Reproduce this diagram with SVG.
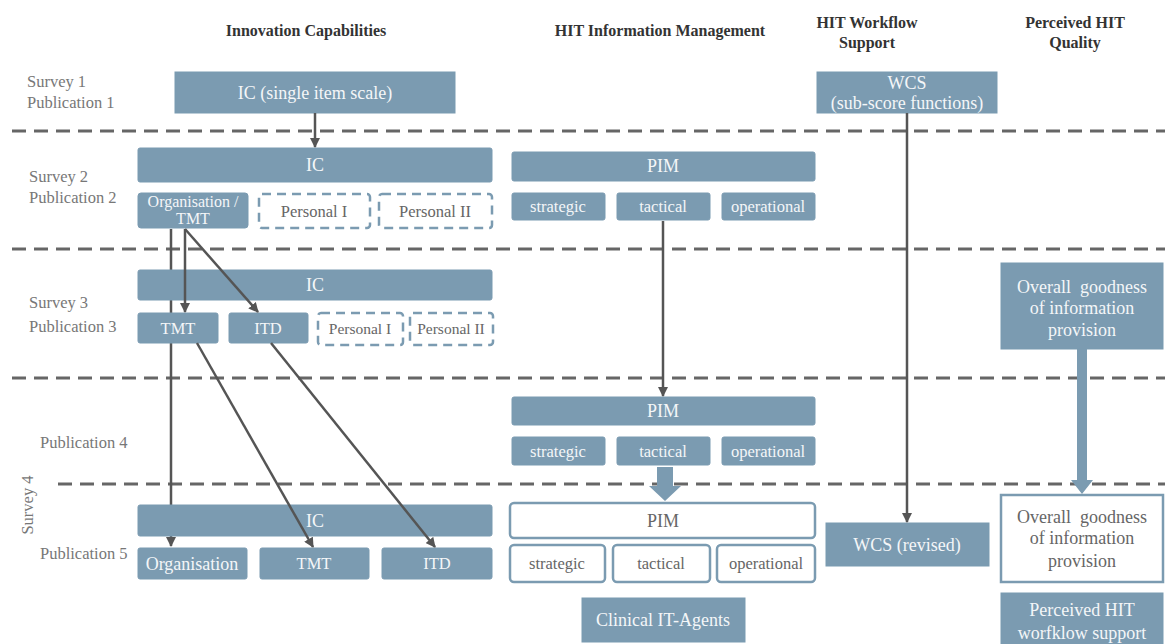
<svg xmlns="http://www.w3.org/2000/svg" width="1165" height="644" viewBox="0 0 1165 644">
  <defs>
    <marker id="arrow" viewBox="0 0 10 10" refX="9" refY="5" markerWidth="4" markerHeight="4" orient="auto" markerUnits="strokeWidth">
      <path d="M0,0 L10,5 L0,10 z" fill="#555"/>
    </marker>
    <style>
      text { font-family: "Liberation Serif", "Times New Roman", "DejaVu Serif", serif; }
      .head { font-weight: bold; font-size: 16px; fill: #333; text-anchor: middle; }
      .side { font-size: 16.5px; fill: #777; }
      .box { fill: #7b9bb1; stroke: #7b9bb1; stroke-width: 1; }
      .obox { fill: #fff; stroke: #7b9bb1; stroke-width: 2.5; }
      .dbox { fill: #fff; stroke: #7b9bb1; stroke-width: 2.5; stroke-dasharray: 9 6; }
      .t { font-size: 16.5px; fill: #f4f6f8; text-anchor: middle; }
      .tl { font-size: 18px; fill: #f4f6f8; text-anchor: middle; }
      .to { font-size: 16.5px; fill: #666; text-anchor: middle; }
      .ts { font-size: 15.5px; fill: #666; text-anchor: middle; }
      .tol { font-size: 18px; fill: #666; text-anchor: middle; }
      .sep { stroke: #666; stroke-width: 3; stroke-dasharray: 14 8; fill: none; }
      .conn { stroke: #555; stroke-width: 2.5; fill: none; }
      .fat { fill: #7b9bb1; }
    </style>
  </defs>

  <!-- column headings -->
  <g id="headings">
    <text class="head" x="306" y="36">Innovation Capabilities</text>
    <text class="head" x="660" y="36">HIT Information Management</text>
    <text class="head" x="867" y="28">HIT Workflow</text>
    <text class="head" x="867" y="48">Support</text>
    <text class="head" x="1075" y="28">Perceived HIT</text>
    <text class="head" x="1075" y="48">Quality</text>
  </g>

  <!-- row labels -->
  <g id="rows">
    <text class="side" x="27" y="87">Survey 1</text>
    <text class="side" x="27" y="108">Publication 1</text>
    <text class="side" x="29" y="182">Survey 2</text>
    <text class="side" x="29" y="203">Publication 2</text>
    <text class="side" x="29" y="308">Survey 3</text>
    <text class="side" x="29" y="332">Publication 3</text>
    <text class="side" x="40" y="448">Publication 4</text>
    <text class="side" x="40" y="559">Publication 5</text>
    <text class="side" x="0" y="0" text-anchor="middle" transform="translate(33,505) rotate(-90)">Survey 4</text>
  </g>

  <!-- period separators -->
  <g id="separators">
    <line class="sep" x1="12" y1="131" x2="1165" y2="131"/>
    <line class="sep" x1="12" y1="249" x2="1165" y2="249"/>
    <line class="sep" x1="12" y1="378" x2="1165" y2="378"/>
    <line class="sep" x1="58" y1="484" x2="1165" y2="484"/>
  </g>

  <!-- connector running behind the IC and TMT boxes -->
  <g id="connectors-under">
    <line class="conn" x1="171" y1="229" x2="171" y2="546" marker-end="url(#arrow)"/>
  </g>

  <!-- Survey 1 -->
  <g id="ic-single"><rect class="box" x="175" y="72" width="280" height="41"/><text class="tl" x="315" y="99">IC (single item scale)</text></g>
  <g id="wcs"><rect class="box" x="817" y="72" width="180" height="41"/><text class="tl" x="907" y="89">WCS</text><text class="tl" x="907" y="109">(sub-score functions)</text></g>

  <!-- Survey 2 -->
  <g id="ic-2"><rect class="box" x="138" y="148" width="354" height="34" rx="2"/><text class="tl" x="315" y="171">IC</text></g>
  <g id="org-tmt-2"><rect class="box" x="138" y="193" width="110" height="35" rx="3"/><text class="t" x="193" y="207" style="font-size:16px">Organisation /</text><text class="t" x="193" y="224" style="font-size:16px">TMT</text></g>
  <g id="personal1-2"><rect class="dbox" x="259" y="194" width="111" height="34" rx="3"/><text class="to" x="314" y="217">Personal I</text></g>
  <g id="personal2-2"><rect class="dbox" x="379" y="194" width="113" height="34" rx="3"/><text class="to" x="435" y="217">Personal II</text></g>
  <g id="pim-2"><rect class="box" x="512" y="152" width="303" height="29" rx="2"/><text class="tl" x="663" y="172">PIM</text></g>
  <g id="strategic-2"><rect class="box" x="512" y="193" width="93" height="27" rx="2"/><text class="t" x="558" y="212">strategic</text></g>
  <g id="tactical-2"><rect class="box" x="617" y="193" width="93" height="27" rx="2"/><text class="t" x="663" y="212">tactical</text></g>
  <g id="operational-2"><rect class="box" x="722" y="193" width="93" height="27" rx="2"/><text class="t" x="768" y="212">operational</text></g>

  <!-- Survey 3 -->
  <g id="ic-3"><rect class="box" x="138" y="270" width="354" height="30" rx="2"/><text class="tl" x="315" y="291">IC</text></g>
  <g id="tmt-3"><rect class="box" x="138" y="313" width="80" height="30" rx="2"/><text class="t" x="178" y="334">TMT</text></g>
  <g id="itd-3"><rect class="box" x="229" y="313" width="79" height="30" rx="2"/><text class="t" x="268" y="334">ITD</text></g>
  <g id="personal1-3"><rect class="dbox" x="318" y="313" width="85" height="32" rx="3"/><text class="ts" x="360" y="334">Personal I</text></g>
  <g id="personal2-3"><rect class="dbox" x="410" y="313" width="83" height="32" rx="3"/><text class="ts" x="451" y="334">Personal II</text></g>
  <g id="goodness-3"><rect class="box" x="1001" y="263" width="162" height="86"/><text class="tl" x="1082" y="293" xml:space="preserve">Overall  goodness</text><text class="tl" x="1082" y="314">of information</text><text class="tl" x="1082" y="336">provision</text></g>

  <!-- Survey 4 / Publication 4 -->
  <g id="pim-4"><rect class="box" x="512" y="397" width="303" height="28" rx="2"/><text class="tl" x="663" y="417">PIM</text></g>
  <g id="strategic-4"><rect class="box" x="512" y="437" width="93" height="28" rx="2"/><text class="t" x="558" y="457">strategic</text></g>
  <g id="tactical-4"><rect class="box" x="617" y="437" width="93" height="28" rx="2"/><text class="t" x="663" y="457">tactical</text></g>
  <g id="operational-4"><rect class="box" x="722" y="437" width="93" height="28" rx="2"/><text class="t" x="768" y="457">operational</text></g>

  <!-- Survey 4 / Publication 5 -->
  <g id="ic-5"><rect class="box" x="138" y="505" width="354" height="31" rx="2"/><text class="tl" x="315" y="527">IC</text></g>
  <g id="org-5"><rect class="box" x="138" y="548" width="109" height="31" rx="2"/><text class="tl" x="192" y="570">Organisation</text></g>
  <g id="tmt-5"><rect class="box" x="260" y="548" width="109" height="31" rx="2"/><text class="t" x="314" y="569">TMT</text></g>
  <g id="itd-5"><rect class="box" x="382" y="548" width="110" height="31" rx="2"/><text class="t" x="437" y="569">ITD</text></g>
  <g id="pim-5"><rect class="obox" x="510" y="503" width="305" height="35" rx="4"/><text class="tol" x="663" y="527">PIM</text></g>
  <g id="strategic-5"><rect class="obox" x="510" y="545" width="95" height="37" rx="4"/><text class="to" x="557" y="569">strategic</text></g>
  <g id="tactical-5"><rect class="obox" x="613" y="545" width="97" height="37" rx="4"/><text class="to" x="661" y="569">tactical</text></g>
  <g id="operational-5"><rect class="obox" x="717" y="545" width="98" height="37" rx="4"/><text class="to" x="766" y="569">operational</text></g>
  <g id="wcs-revised"><rect class="box" x="826" y="523" width="163" height="43"/><text class="tl" x="907" y="551">WCS (revised)</text></g>
  <g id="goodness-5"><rect class="obox" x="1001" y="495" width="162" height="87"/><text class="tol" x="1082" y="523" xml:space="preserve">Overall  goodness</text><text class="tol" x="1082" y="544">of information</text><text class="tol" x="1082" y="567">provision</text></g>
  <g id="clinical-agents"><rect class="box" x="582" y="598" width="163" height="44"/><text class="tl" x="663" y="626">Clinical IT-Agents</text></g>
  <g id="perceived-workflow"><rect class="box" x="1001" y="593" width="162" height="55"/><text class="tl" x="1082" y="616">Perceived HIT</text><text class="tl" x="1082" y="639">worfklow support</text></g>

  <!-- connectors -->
  <g id="connectors">
    <line class="conn" x1="315" y1="113" x2="315" y2="147" marker-end="url(#arrow)"/>
    <line class="conn" x1="907" y1="113" x2="907" y2="522" marker-end="url(#arrow)"/>
    <line class="conn" x1="663" y1="221" x2="663" y2="396" marker-end="url(#arrow)"/>
    <line class="conn" x1="185" y1="229" x2="185" y2="312" marker-end="url(#arrow)"/>
    <line class="conn" x1="185" y1="229" x2="258" y2="312" marker-end="url(#arrow)"/>
    <line class="conn" x1="197" y1="343" x2="313" y2="547" marker-end="url(#arrow)"/>
    <line class="conn" x1="271" y1="343" x2="435" y2="547" marker-end="url(#arrow)"/>
    <!-- block arrows -->
    <path class="fat" d="M657,467 H673 V486 H681 L665,501 L649,486 H657 Z"/>
    <path class="fat" d="M1077,349 H1087 V480 H1093 L1082,494 L1071,480 H1077 Z"/>
  </g>
</svg>
